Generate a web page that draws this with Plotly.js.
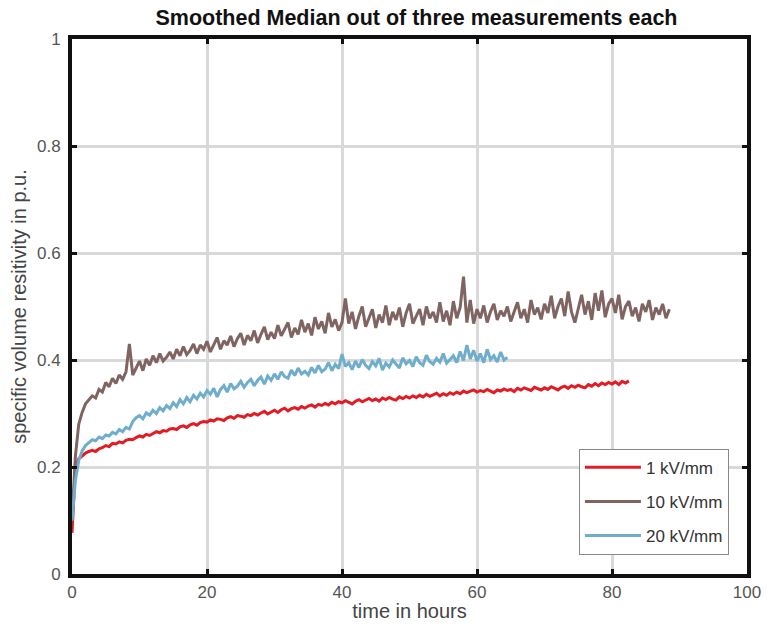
<!DOCTYPE html>
<html>
<head>
<meta charset="utf-8">
<script src="https://cdn.plot.ly/plotly-3.0.1.min.js"></script>
<style>html,body{margin:0;padding:0;background:#fff;}#chart{width:767px;height:632px;}</style>
</head>
<body>
<div id="chart"></div>
<script>
// sampling interval of the smoothed medians (hours)
const sampleStepHours = 0.5;

const seriesNames = ["1 kV/mm", "10 kV/mm", "20 kV/mm"];

// 1 kV/mm, t = 0 ... 82.5 h
const res1kV = [
  0.077, 0.200, 0.215, 0.221, 0.226, 0.229, 0.231, 0.229, 0.234, 0.236,
  0.240, 0.238, 0.244, 0.243, 0.247, 0.245, 0.250, 0.252, 0.251, 0.255,
  0.258, 0.256, 0.261, 0.259, 0.263, 0.266, 0.264, 0.268, 0.267, 0.271,
  0.272, 0.270, 0.275, 0.277, 0.274, 0.279, 0.281, 0.278, 0.283, 0.285,
  0.284, 0.288, 0.286, 0.290, 0.289, 0.287, 0.292, 0.294, 0.291, 0.296,
  0.295, 0.293, 0.298, 0.296, 0.300, 0.297, 0.301, 0.304, 0.299, 0.303,
  0.306, 0.302, 0.307, 0.310, 0.305, 0.309, 0.311, 0.308, 0.313, 0.310,
  0.314, 0.316, 0.312, 0.317, 0.315, 0.319, 0.316, 0.321, 0.318, 0.322,
  0.320, 0.324, 0.321, 0.318, 0.323, 0.326, 0.322, 0.325, 0.328, 0.324,
  0.327, 0.323, 0.329, 0.326, 0.330, 0.327, 0.325, 0.331, 0.328, 0.332,
  0.329, 0.333, 0.330, 0.334, 0.331, 0.336, 0.332, 0.335, 0.338, 0.333,
  0.337, 0.334, 0.339, 0.336, 0.340, 0.337, 0.342, 0.339, 0.341, 0.344,
  0.340, 0.343, 0.341, 0.345, 0.342, 0.339, 0.344, 0.342, 0.346, 0.343,
  0.345, 0.341, 0.347, 0.344, 0.348, 0.345, 0.343, 0.349, 0.346, 0.344,
  0.348, 0.345, 0.350, 0.347, 0.344, 0.349, 0.351, 0.347, 0.352, 0.349,
  0.353, 0.350, 0.348, 0.354, 0.351, 0.356, 0.352, 0.357, 0.354, 0.358,
  0.355, 0.359, 0.354, 0.360, 0.357, 0.361
];

// 10 kV/mm, t = 0 ... 88.5 h
const res10kV = [
  0.100, 0.220, 0.280, 0.302, 0.318, 0.325, 0.333, 0.329, 0.345, 0.340,
  0.358, 0.350, 0.366, 0.356, 0.372, 0.364, 0.378, 0.430, 0.372, 0.385,
  0.398, 0.380, 0.402, 0.390, 0.408, 0.395, 0.412, 0.398, 0.405, 0.415,
  0.402, 0.420, 0.408, 0.425, 0.410, 0.418, 0.430, 0.412, 0.428, 0.420,
  0.435, 0.415, 0.430, 0.442, 0.420, 0.436, 0.428, 0.445, 0.425, 0.440,
  0.450, 0.428, 0.446, 0.436, 0.455, 0.432, 0.448, 0.462, 0.438, 0.452,
  0.440, 0.465, 0.445, 0.458, 0.470, 0.442, 0.460, 0.448, 0.475, 0.452,
  0.468, 0.446, 0.480, 0.458, 0.472, 0.450, 0.488, 0.462, 0.476, 0.455,
  0.470, 0.515, 0.468, 0.490, 0.458, 0.482, 0.500, 0.462, 0.478, 0.495,
  0.460, 0.485, 0.470, 0.502, 0.465, 0.490, 0.475, 0.498, 0.462, 0.488,
  0.505, 0.468, 0.482, 0.495, 0.465, 0.500, 0.478, 0.490, 0.470, 0.508,
  0.472, 0.492, 0.465, 0.510, 0.478, 0.498, 0.556, 0.470, 0.512, 0.468,
  0.495, 0.478, 0.502, 0.470, 0.490, 0.505, 0.475, 0.492, 0.482, 0.500,
  0.472, 0.490, 0.508, 0.478, 0.495, 0.470, 0.512, 0.485, 0.498, 0.476,
  0.505, 0.488, 0.520, 0.478, 0.500, 0.515, 0.482, 0.528, 0.490, 0.470,
  0.498, 0.522, 0.485, 0.510, 0.475, 0.525, 0.492, 0.530, 0.480, 0.505,
  0.515, 0.488, 0.522, 0.476, 0.500, 0.510, 0.482, 0.498, 0.472, 0.505,
  0.490, 0.512, 0.475, 0.498, 0.485, 0.505, 0.478, 0.495
];

// 20 kV/mm, t = 0 ... 64.5 h
const res20kV = [
  0.100, 0.175, 0.212, 0.230, 0.240, 0.246, 0.251, 0.249, 0.256, 0.253,
  0.260, 0.258, 0.265, 0.262, 0.270, 0.266, 0.274, 0.271, 0.285, 0.292,
  0.296, 0.290, 0.301, 0.297, 0.306, 0.300, 0.311, 0.305, 0.315, 0.309,
  0.320, 0.313, 0.326, 0.318, 0.330, 0.322, 0.334, 0.327, 0.338, 0.331,
  0.343, 0.336, 0.347, 0.331, 0.345, 0.352, 0.340, 0.356, 0.346, 0.351,
  0.360, 0.349, 0.358, 0.364, 0.352, 0.362, 0.368, 0.355, 0.370, 0.362,
  0.374, 0.364, 0.378, 0.369, 0.366, 0.381, 0.371, 0.385, 0.374, 0.379,
  0.372, 0.386, 0.376, 0.390, 0.378, 0.383, 0.395, 0.380, 0.392, 0.384,
  0.411, 0.388, 0.395, 0.382, 0.398, 0.386, 0.401, 0.390, 0.384, 0.397,
  0.389, 0.403, 0.381, 0.394, 0.387, 0.400, 0.392, 0.385, 0.404, 0.393,
  0.399, 0.388, 0.406, 0.395, 0.390, 0.409, 0.397, 0.392, 0.403, 0.396,
  0.412, 0.394, 0.401, 0.408, 0.395, 0.416, 0.399, 0.428, 0.402, 0.418,
  0.398, 0.412, 0.395, 0.420, 0.401, 0.408, 0.396, 0.415, 0.400, 0.405
];

const xTicks = [0, 20, 40, 60, 80, 100];
const yTicks = [0, 0.2, 0.4, 0.6, 0.8, 1];

function timesFor(values) {
  return values.map((_, i) => i * sampleStepHours);
}

const colors = ["rgb(226,28,36)", "rgb(128,100,98)", "rgb(110,174,204)"];
const seriesData = [res1kV, res10kV, res20kV];

const traces = seriesData.map((vals, k) => ({
  type: "scatter",
  mode: "lines",
  name: seriesNames[k],
  legendgroup: "g" + k,
  x: timesFor(vals),
  y: vals,
  line: { color: colors[k], width: 3 },
  hoverinfo: "skip"
}));

const font = "Liberation Sans, Arial, Helvetica, sans-serif";

const axisCommon = {
  showline: true, linecolor: "#111", linewidth: 4, mirror: "ticks",
  ticks: "inside", ticklen: 5, tickwidth: 3, tickcolor: "#111",
  showgrid: true, gridcolor: "#d9d9d9", gridwidth: 3,
  zeroline: false,
  tickfont: { family: font, size: 17, color: "#555" }
};

const layout = {
  width: 767, height: 632,
  margin: { l: 72, r: 20, t: 39, b: 58 },
  paper_bgcolor: "#fff", plot_bgcolor: "#fff",
  title: {
    text: "<b>Smoothed Median out of three measurements each</b>",
    font: { family: font, size: 21.5, color: "#111" },
    x: 0.543, xref: "container", xanchor: "center",
    y: 0.973, yref: "container", yanchor: "middle"
  },
  xaxis: Object.assign({}, axisCommon, {
    range: [0, 100], tickvals: xTicks, ticktext: xTicks.map(String),
    title: { text: "time in hours", font: { family: font, size: 20, color: "#444" }, standoff: 4 }
  }),
  yaxis: Object.assign({}, axisCommon, {
    range: [0, 1], tickvals: yTicks, ticktext: yTicks.map(String),
    ticklabelstandoff: 4,
    title: { text: "specific volume resitivity in p.u.", font: { family: font, size: 20, color: "#444" }, standoff: 6 }
  }),
  showlegend: true,
  legend: {
    x: 0.751, y: 0.234, xanchor: "left", yanchor: "top",
    bgcolor: "#fff", bordercolor: "#888", borderwidth: 1,
    font: { family: font, size: 17, color: "#333" },
    tracegroupgap: 9,
    itemwidth: 56
  }
};

Plotly.newPlot("chart", traces, layout, { displayModeBar: false, staticPlot: true });
</script>
</body>
</html>
